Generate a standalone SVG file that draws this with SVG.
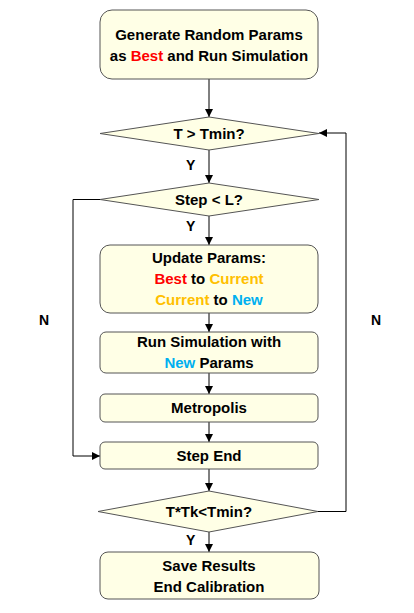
<svg xmlns="http://www.w3.org/2000/svg" width="414" height="613" viewBox="0 0 414 613">
<defs>
<marker id="ah" viewBox="0 0 10 10" refX="10" refY="5" markerWidth="8" markerHeight="8" markerUnits="userSpaceOnUse" orient="auto">
<path d="M0,0 L10,5 L0,10 z" fill="#000"/>
</marker>
</defs>
<style>
.n{fill:#FFFFE6;stroke:#555;stroke-width:1}
.t{font-family:"Liberation Sans",Arial,sans-serif;font-weight:bold;font-size:15px;text-anchor:middle;fill:#000}
.l{font-family:"Liberation Sans",Arial,sans-serif;font-weight:bold;font-size:14px;fill:#000}
.c{fill:none;stroke:#000;stroke-width:1;marker-end:url(#ah)}
.red{fill:#FF0000}.org{fill:#FFC000}.blu{fill:#00B0F0}
</style>
<rect width="414" height="613" fill="#fff"/>
<g id="connectors">
<line class="c" x1="209" y1="79" x2="209" y2="117"/>
<line class="c" x1="209" y1="150" x2="209" y2="183"/>
<line class="c" x1="209" y1="216" x2="209" y2="245"/>
<line class="c" x1="209" y1="313" x2="209" y2="332"/>
<line class="c" x1="209" y1="373" x2="209" y2="394"/>
<line class="c" x1="209" y1="422" x2="209" y2="442"/>
<line class="c" x1="209" y1="469" x2="209" y2="491"/>
<line class="c" x1="209" y1="532" x2="209" y2="552"/>
<polyline class="c" points="100,199.5 73,199.5 73,456 100,456"/>
<polyline class="c" points="318,511.5 346,511.5 346,133 319,133"/>
<text class="l" x="186" y="170">Y</text>
<text class="l" x="186" y="231">Y</text>
<text class="l" x="186" y="545">Y</text>
<text class="l" x="39" y="325">N</text>
<text class="l" x="371" y="325">N</text>
</g>
<g id="start">
<rect class="n" x="100" y="10" width="218" height="69" rx="12"/>
<text class="t" x="209" y="40">Generate Random Params</text>
<text class="t" x="209" y="61">as <tspan class="red">Best</tspan> and Run Simulation</text>
</g>
<g id="d1">
<polygon class="n" points="209,117 319,133.5 209,150 100,133.5"/>
<text class="t" x="209" y="139">T &gt; Tmin?</text>
</g>
<g id="d2">
<polygon class="n" points="209,183 319,199.5 209,216 100,199.5"/>
<text class="t" x="209" y="205">Step &lt; L?</text>
</g>
<g id="update">
<rect class="n" x="100" y="245" width="218" height="68" rx="10"/>
<text class="t" x="209" y="263">Update Params:</text>
<text class="t" x="209" y="284"><tspan class="red">Best</tspan> to <tspan class="org">Current</tspan></text>
<text class="t" x="209" y="305"><tspan class="org">Current</tspan> to <tspan class="blu">New</tspan></text>
</g>
<g id="run">
<rect class="n" x="100" y="332" width="218" height="41" rx="6"/>
<text class="t" x="209" y="347">Run Simulation with</text>
<text class="t" x="209" y="368"><tspan class="blu">New</tspan> Params</text>
</g>
<g id="metropolis">
<rect class="n" x="100" y="394" width="218" height="28" rx="5"/>
<text class="t" x="209" y="413">Metropolis</text>
</g>
<g id="stepend">
<rect class="n" x="100" y="442" width="218" height="27" rx="5"/>
<text class="t" x="209" y="461">Step End</text>
</g>
<g id="d3">
<polygon class="n" points="209,491 318,511.5 209,532 98,511.5"/>
<text class="t" x="209" y="517">T*Tk&lt;Tmin?</text>
</g>
<g id="end">
<rect class="n" x="100" y="552" width="219" height="47" rx="8"/>
<text class="t" x="209" y="571">Save Results</text>
<text class="t" x="209" y="592">End Calibration</text>
</g>
</svg>
